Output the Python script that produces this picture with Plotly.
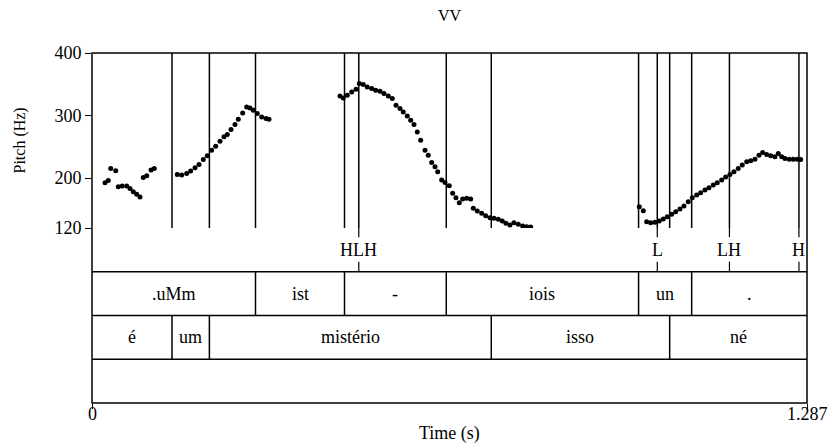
import plotly.graph_objects as go

# ---------------- data ----------------
T_END = 1.287

pitch_time = [
    0.0234, 0.0293, 0.0337, 0.0427, 0.0473, 0.0545, 0.0625, 0.0684, 0.0743, 0.0805,
    0.0864, 0.0923, 0.0985, 0.1062, 0.1121,
    0.1535, 0.1614, 0.1704, 0.1776, 0.1854, 0.1926, 0.2003, 0.2075, 0.2154, 0.2226,
    0.2304, 0.2376, 0.2435, 0.2502, 0.2574, 0.2633, 0.2712, 0.2784, 0.2844, 0.2903,
    0.2975, 0.3054, 0.3132, 0.3186,
    0.4464, 0.4523, 0.4595, 0.4674, 0.4752, 0.4811, 0.4883, 0.4955, 0.5034, 0.5106,
    0.5184, 0.5256, 0.5333, 0.5405, 0.5472, 0.5544, 0.5603, 0.5675, 0.5736, 0.5796,
    0.5855, 0.5916, 0.5994, 0.6053, 0.6114, 0.6174, 0.6222,
    0.6294, 0.6354, 0.6431, 0.6492, 0.6551, 0.6611, 0.6672, 0.6744, 0.6816, 0.6863,
    0.6935, 0.7014, 0.7086, 0.7163, 0.7235, 0.7313, 0.7385, 0.7451, 0.7523, 0.7595,
    0.7673, 0.7752, 0.7824, 0.7896,
    0.9851, 0.9923, 0.9984, 1.0056, 1.0133, 1.0211, 1.0283, 1.0355, 1.0434, 1.0506,
    1.0583, 1.0655, 1.0733, 1.0805, 1.0884, 1.0956, 1.1033, 1.1105, 1.1183, 1.1255,
    1.1334, 1.1406, 1.1483, 1.1555, 1.1632, 1.1705, 1.1784, 1.1856, 1.1933, 1.2005,
    1.2072, 1.2144, 1.2216, 1.2293, 1.2353, 1.2414, 1.2473, 1.2551, 1.2622, 1.2694,
    1.2756,
]
pitch_hz = [
    192.4, 196.2, 215.4, 211.6, 186.0, 187.1, 187.1, 183.4, 178.0, 173.9,
    169.6, 201.0, 203.6, 212.7, 215.4,
    205.8, 204.7, 207.4, 211.1, 216.3, 221.8, 229.8, 235.5, 244.6, 251.0,
    259.0, 265.9, 269.7, 277.7, 285.7, 294.1, 304.2, 313.8, 312.2, 308.5,
    303.2, 297.8, 295.2, 294.1,
    331.3, 328.1, 332.4, 337.7, 342.0, 351.1, 349.5, 345.7, 343.1, 340.4,
    338.8, 335.2, 331.3, 327.2, 316.5, 311.2, 305.8, 299.4, 292.5, 285.7,
    273.8, 260.6, 244.6, 236.6, 225.0, 217.9, 210.0,
    196.7, 193.0, 187.6, 175.5, 168.4, 160.4, 166.4, 167.5, 166.4, 151.5,
    147.2, 143.5, 139.7, 136.5, 135.5, 133.9, 131.2, 127.6, 124.8, 128.5,
    126.0, 123.2, 122.1, 121.6,
    154.1, 147.7, 130.1, 128.5, 129.1, 131.2, 134.4, 138.1, 141.9, 146.1,
    150.4, 155.2, 162.0, 168.4, 172.7, 176.4, 180.7, 184.4, 188.7, 192.4,
    196.7, 201.5, 205.8, 210.0, 215.4, 220.7, 225.9, 227.5, 230.2, 236.6,
    240.9, 237.7, 235.5, 233.9, 239.3, 233.9, 231.4, 230.2, 230.2, 230.2,
    229.8,
]

tone_times = [0.4802, 1.0175, 1.1474, 1.2725]
tone_labels = ["HLH", "L", "LH", "H"]

tier2_bounds = [0.0, 0.2943, 0.4545, 0.6377, 0.9838, 1.0794, T_END]
tier2_labels = [".uMm", "ist", "-", "iois", "un", "."]

tier3_bounds = [0.0, 0.1440, 0.2113, 0.7187, 1.0398, T_END]
tier3_labels = ["é", "um", "mistério", "isso", "né"]

x_ticks = [0, T_END]
x_tick_text = ["0", "1.287"]
y_ticks = [120, 200, 300, 400]
Y_MIN, Y_MAX = 120, 400

FONT = "Liberation Serif, Times New Roman, serif"
FS = 18
LW = 1.5

# ---------------- figure ----------------
fig = go.Figure()
fig.add_trace(go.Scatter(
    x=pitch_time, y=pitch_hz, mode="markers",
    marker=dict(color="black", size=5, line=dict(width=0)),
    xaxis="x", yaxis="y", hoverinfo="skip",
))

shapes = []
shapes.append(dict(type="rect", xref="paper", yref="paper", x0=0, x1=1, y0=0, y1=1,
                   line=dict(color="black", width=LW)))
for yy in [3, 2, 1]:
    shapes.append(dict(type="line", xref="paper", yref="y2", x0=0, x1=1, y0=yy, y1=yy,
                       line=dict(color="black", width=LW)))

all_bounds = sorted(set(tier2_bounds[1:-1] + tier3_bounds[1:-1] + tone_times))
for t in all_bounds:
    shapes.append(dict(type="line", xref="x", yref="y", x0=t, x1=t, y0=Y_MIN, y1=Y_MAX,
                       line=dict(color="black", width=LW)))
for t in tier2_bounds[1:-1]:
    shapes.append(dict(type="line", xref="x", yref="y2", x0=t, x1=t, y0=2, y1=3,
                       line=dict(color="black", width=LW)))
for t in tier3_bounds[1:-1]:
    shapes.append(dict(type="line", xref="x", yref="y2", x0=t, x1=t, y0=1, y1=2,
                       line=dict(color="black", width=LW)))
for t in tone_times:
    shapes.append(dict(type="line", xref="x", yref="y2", x0=t, x1=t, y0=3.79, y1=4,
                       line=dict(color="black", width=1.2)))
    shapes.append(dict(type="line", xref="x", yref="y2", x0=t, x1=t, y0=3.0, y1=3.23,
                       line=dict(color="black", width=1.2)))

annotations = []
tf = dict(family=FONT, size=FS, color="black")
for t, lab in zip(tone_times, tone_labels):
    annotations.append(dict(x=t, y=3.5, xref="x", yref="y2", text=lab, showarrow=False,
                            font=tf, xanchor="center", yanchor="middle"))
for i, lab in enumerate(tier2_labels):
    annotations.append(dict(x=(tier2_bounds[i] + tier2_bounds[i + 1]) / 2, y=2.5, xref="x", yref="y2",
                            text=lab, showarrow=False, font=tf, xanchor="center", yanchor="middle"))
for i, lab in enumerate(tier3_labels):
    annotations.append(dict(x=(tier3_bounds[i] + tier3_bounds[i + 1]) / 2, y=1.5, xref="x", yref="y2",
                            text=lab, showarrow=False, font=tf, xanchor="center", yanchor="middle"))
# x tick labels placed just below the axis
for t, lab in zip(x_ticks, x_tick_text):
    annotations.append(dict(x=t, y=0, xref="x", yref="paper", yshift=-11, text=lab,
                            showarrow=False, font=tf, xanchor="center", yanchor="middle"))
# titles
annotations.append(dict(x=0.5, y=1, xref="paper", yref="paper", yshift=38, text="VV",
                        showarrow=False, font=dict(family=FONT, size=16, color="black"),
                        xanchor="center", yanchor="middle"))
annotations.append(dict(x=0.5, y=0, xref="paper", yref="paper", yshift=-30, text="Time (s)",
                        showarrow=False, font=tf, xanchor="center", yanchor="middle"))
annotations.append(dict(x=0, y=0.75, xref="paper", yref="paper", xshift=-73, text="Pitch (Hz)",
                        textangle=-90, showarrow=False, font=dict(family=FONT, size=16, color="black"),
                        xanchor="center", yanchor="middle"))

fig.update_layout(
    width=831, height=443,
    margin=dict(l=92, r=24, t=53, b=40, autoexpand=False),
    paper_bgcolor="white", plot_bgcolor="white",
    showlegend=False,
    shapes=shapes, annotations=annotations,
    xaxis=dict(range=[0, T_END], tickvals=x_ticks, showticklabels=False,
               ticks="outside", ticklen=5, tickcolor="black", tickwidth=1.2,
               showgrid=False, zeroline=False, showline=False, anchor="y2", automargin=False),
    yaxis=dict(domain=[0.5, 1], range=[Y_MIN, Y_MAX], tickvals=y_ticks,
               ticks="outside", ticklen=6, tickcolor="black", tickwidth=1.2,
               showgrid=False, zeroline=False, showline=False, anchor="x", automargin=False,
               tickfont=tf),
    yaxis2=dict(domain=[0, 0.5], range=[0, 4], visible=False, anchor="x"),
)

fig.write_html("out.html")
